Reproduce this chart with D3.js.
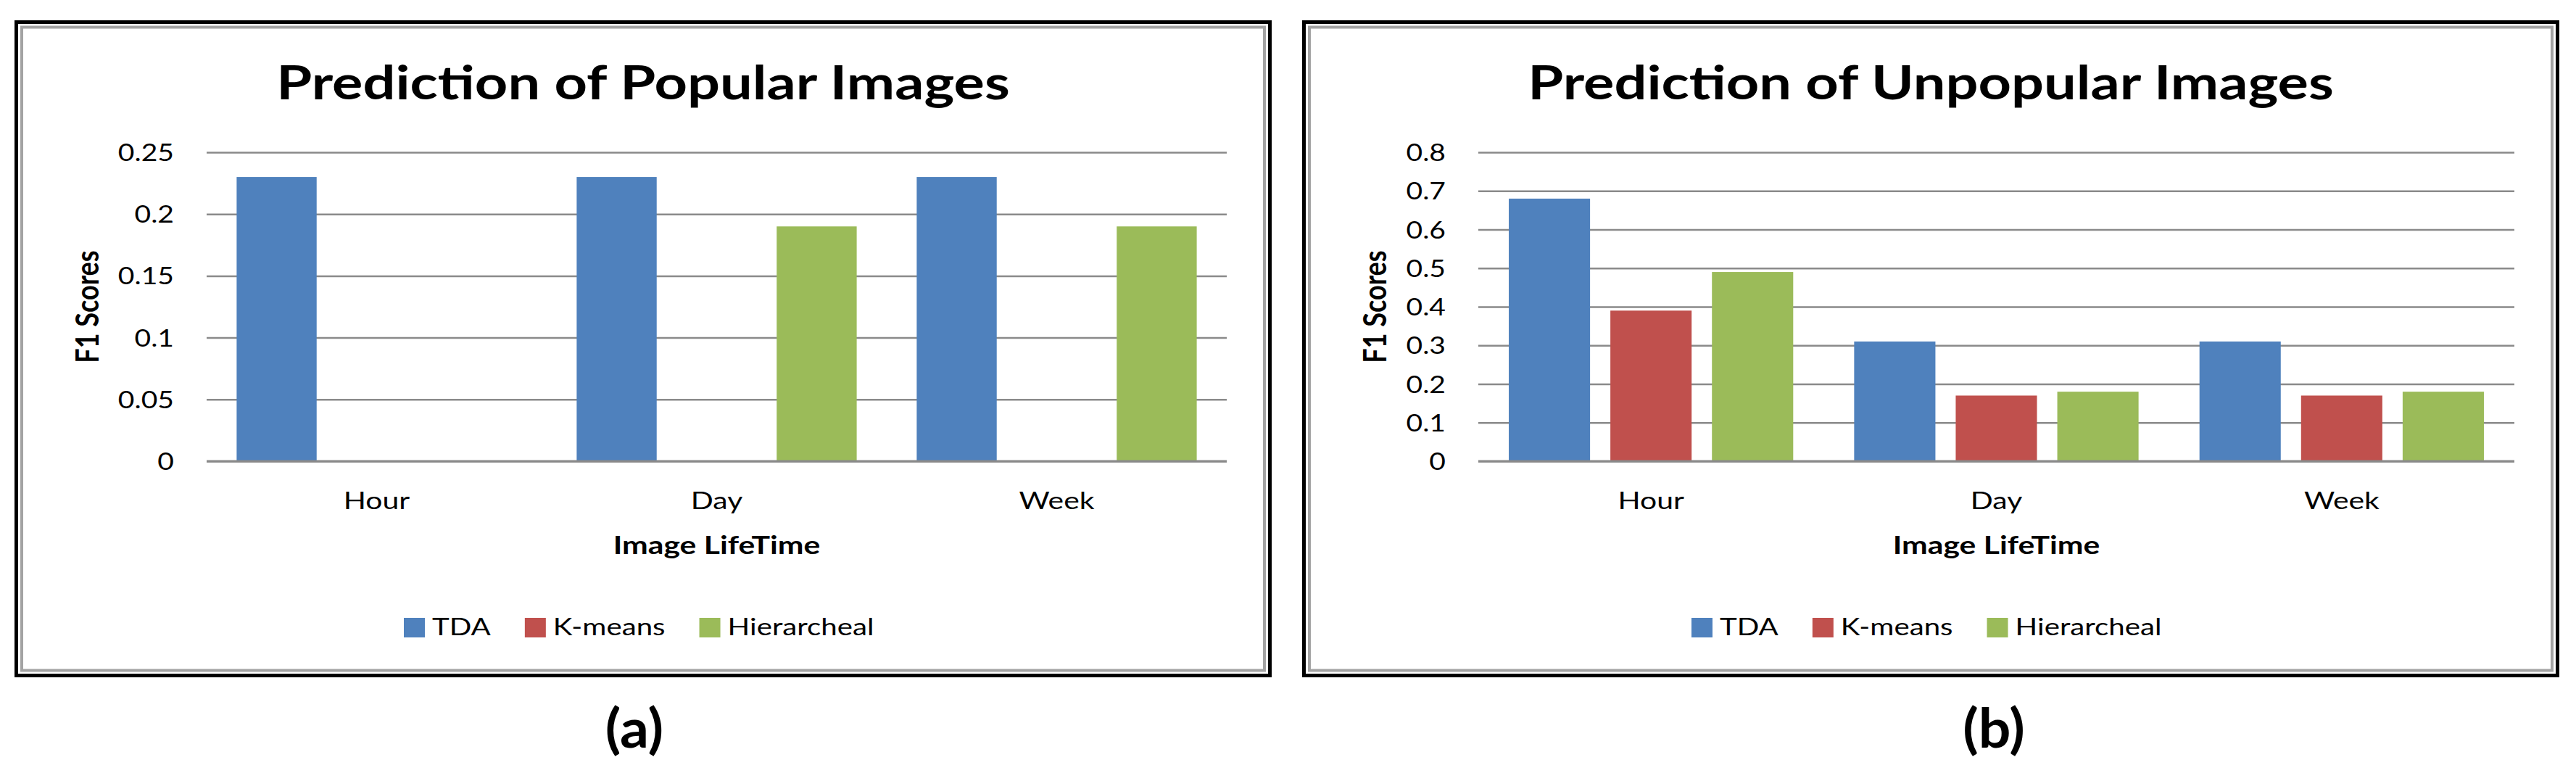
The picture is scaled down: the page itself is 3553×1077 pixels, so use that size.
<!DOCTYPE html>
<html>
<head>
<meta charset="utf-8">
<script src="https://cdn.jsdelivr.net/npm/d3@7"></script>
<style>
  body { margin: 0; background: #fff; }
  text { font-family: Lato, "Open Sans", sans-serif; fill: #000; }
</style>
</head>
<body>
<svg id="fig"></svg>
<script>
// Categories and series shared by both panels
const categories = ['Hour', 'Day', 'Week'];
const methods = ['TDA', 'K-means', 'Hierarcheal'];
const methodColors = ['#4f81bd', '#c0504d', '#9bbb59'];

// (a) Prediction of Popular Images
const popularTDA = [0.23, 0.23, 0.23];
const popularKMeans = [0, 0, 0];
const popularHierarcheal = [0, 0.19, 0.19];
const popularTicks = [0, 0.05, 0.1, 0.15, 0.2, 0.25];

// (b) Prediction of Unpopular Images
const unpopularTDA = [0.68, 0.31, 0.31];
const unpopularKMeans = [0.39, 0.17, 0.17];
const unpopularHierarcheal = [0.49, 0.18, 0.18];
const unpopularTicks = [0, 0.1, 0.2, 0.3, 0.4, 0.5, 0.6, 0.7, 0.8];

const W = 3553, H = 1077;
// the source charts were pasted stretched sideways, so text is widened too
const SX = 1.22;

const svg = d3.select('#fig')
  .attr('width', W)
  .attr('height', H);

// helper: text that is widened horizontally around its anchor point
function wideText(parent, x, y, str, size, weight, anchor, sx) {
  return parent.append('text')
    .attr('transform', `translate(${x},${y}) scale(${sx || SX},1)`)
    .attr('text-anchor', anchor || 'middle')
    .style('font-size', size + 'px')
    .style('font-weight', weight || 'normal')
    .text(str);
}

function drawPanel(cfg) {
  const frameW = 1734, frameH = 906;
  const plotTop = 182, plotRight = 1672, plotH = 426;
  const plotW = plotRight - cfg.plotLeft;

  const panel = svg.append('g')
    .attr('transform', `translate(${cfg.left},28)`);

  // double border: black outside, grey chart-area edge inside
  panel.append('rect')
    .attr('x', 2.5).attr('y', 2.5)
    .attr('width', frameW - 5).attr('height', frameH - 5)
    .attr('fill', '#fff')
    .attr('stroke', '#000')
    .attr('stroke-width', 5);
  panel.append('rect')
    .attr('x', 10).attr('y', 9.5)
    .attr('width', frameW - 20).attr('height', frameH - 19)
    .attr('fill', 'none')
    .attr('stroke', '#a3a3a3')
    .attr('stroke-width', 4);

  // chart title
  wideText(panel, frameW / 2, 109, cfg.title, 65, 'bold');

  const chart = panel.append('g')
    .attr('transform', `translate(${cfg.plotLeft},${plotTop})`);

  // scales
  const x0 = d3.scaleBand()
    .domain(categories)
    .range([0, plotW]);
  const x1 = d3.scaleBand()
    .domain(methods)
    .range([0, x0.bandwidth()])
    .paddingInner(0.2)
    .paddingOuter(0.3);
  const y = d3.scaleLinear()
    .domain([0, d3.max(cfg.ticks)])
    .range([plotH, 0]);

  // gridlines + tick labels
  const yAxis = d3.axisLeft(y)
    .tickValues(cfg.ticks)
    .tickSize(-plotW)
    .tickFormat(d => String(d));
  const yAxisG = chart.append('g').call(yAxis);
  yAxisG.select('.domain').remove();
  yAxisG.selectAll('.tick line')
    .attr('stroke', '#8a8a8a')
    .attr('stroke-width', 2.5);
  yAxisG.selectAll('.tick text')
    .attr('x', 0)
    .attr('dy', '0.36em')
    .attr('transform', `translate(-45,0) scale(${SX},1)`)
    .style('font-size', '32px')
    .style('font-family', 'Lato, "Open Sans", sans-serif')
    .attr('fill', '#000');

  // table rows: one per category
  const rows = categories.map((c, i) => ({
    category: c,
    values: methods.map((m, j) => ({ method: m, value: cfg.series[j][i], color: methodColors[j] }))
  }));

  chart.selectAll('.group')
    .data(rows)
    .join('g')
    .attr('class', 'group')
    .attr('transform', d => `translate(${x0(d.category)},0)`)
    .selectAll('rect')
    .data(d => d.values)
    .join('rect')
    .attr('x', d => x1(d.method))
    .attr('width', x1.bandwidth())
    .attr('y', d => y(d.value))
    .attr('height', d => plotH - y(d.value))
    .attr('fill', d => d.color);

  // category axis line on top of the bars
  chart.append('line')
    .attr('x1', 0).attr('x2', plotW)
    .attr('y1', y(0)).attr('y2', y(0))
    .attr('stroke', '#8a8a8a')
    .attr('stroke-width', 3);

  // category labels
  categories.forEach(c => {
    wideText(chart, x0(c) + x0.bandwidth() / 2, plotH + 66, c, 33.5, 'normal');
  });

  // axis titles
  wideText(chart, plotW / 2, plotH + 128, 'Image LifeTime', 35, 'bold');
  panel.append('text')
    .attr('transform', `translate(100,${plotTop + plotH / 2}) scale(${SX},1) rotate(-90)`)
    .attr('text-anchor', 'middle')
    .attr('dy', '0.36em')
    .style('font-size', '36px')
    .style('font-weight', 'bold')
    .text('F1 Scores');

  // legend
  const legend = panel.append('g')
    .attr('transform', 'translate(537,824)');
  let cx = 0;
  methods.forEach((m, j) => {
    legend.append('rect')
      .attr('x', cx).attr('y', 0)
      .attr('width', 29).attr('height', 27)
      .attr('fill', methodColors[j]);
    const t = wideText(legend, cx + 39, 24, m, 33, 'normal', 'start');
    cx += 39 + t.node().getComputedTextLength() * SX + 47;
  });

  // panel label below the frame
  wideText(svg, cfg.labelX, 1031, cfg.label, 75, 'bold', 'middle', 1.05);
}

drawPanel({
  left: 20,
  plotLeft: 265,
  title: 'Prediction of Popular Images',
  label: '(a)',
  labelX: 875,
  ticks: popularTicks,
  series: [popularTDA, popularKMeans, popularHierarcheal]
});

drawPanel({
  left: 1796,
  plotLeft: 243,
  title: 'Prediction of Unpopular Images',
  label: '(b)',
  labelX: 2750,
  ticks: unpopularTicks,
  series: [unpopularTDA, unpopularKMeans, unpopularHierarcheal]
});
</script>
</body>
</html>
